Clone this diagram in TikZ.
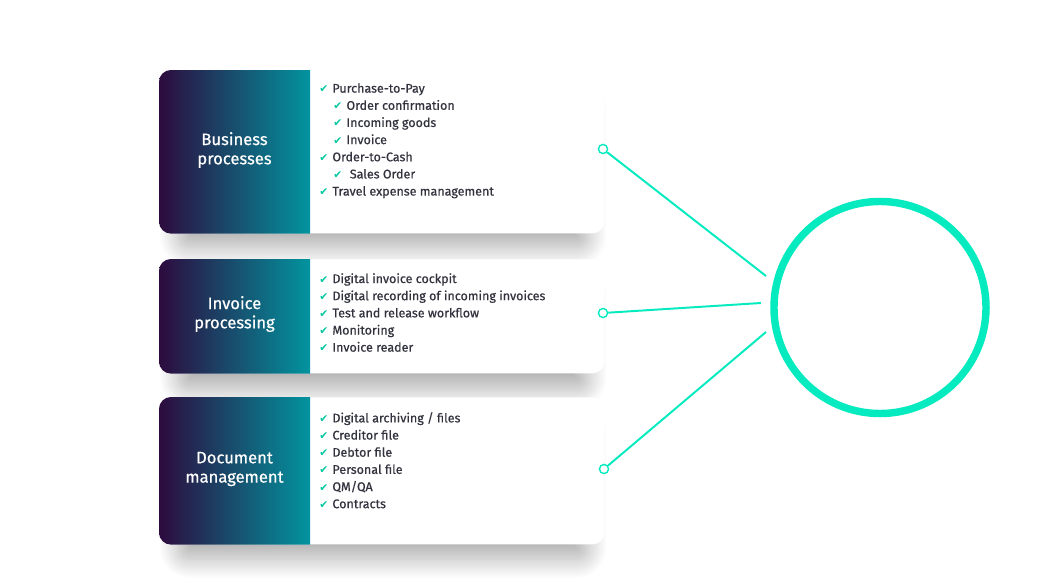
\documentclass[tikz,border=0pt]{standalone}
\usepackage{fontspec}
\setmainfont{Fira Sans}[FakeBold=0.6]
\newfontfamily\symfont{DejaVu Sans}
\usetikzlibrary{shadows.blur}

\definecolor{accent}{HTML}{05EBBF}
\definecolor{deeppurple}{HTML}{2D0B3E}
\definecolor{petrol}{HTML}{02949F}
\definecolor{ink}{HTML}{33333F}

\newcommand{\chk}{{\symfont\color{accent!85!black}\fontsize{7.6}{7.6}\selectfont ✔}\hspace{3pt}}
\newcommand{\sub}{\hspace*{10pt}}

\begin{document}
\begin{tikzpicture}[x=0.025cm,y=-0.025cm,
  card/.style={fill=white,rounded corners=8.5pt,anchor=north west,minimum width=11.125cm,inner sep=0pt,
    blur shadow={shadow xshift=1pt,shadow yshift=-16pt,shadow blur radius=15pt,shadow blur steps=24,shadow opacity=32,shadow scale=0.92}},
  title/.style={text=white,align=center,font=\fontsize{11.8}{13.7}\selectfont},
  items/.style={anchor=north west,align=left,inner sep=0pt,text=ink,font=\fontsize{8.9}{12.2}\selectfont},
  dot/.style={circle,draw=accent,fill=white,line width=1pt,inner sep=0pt,minimum size=6.5pt},
  link/.style={accent,line width=1.4pt}]

\useasboundingbox (0,0) rectangle (1040,585);

% cards
\node[card,minimum height=4.075cm] (bp) at (159,70) {};
\node[card,minimum height=2.85cm] (ip) at (159,259) {};
\node[card,minimum height=3.675cm] (dm) at (159,397) {};

% gradient panels
\foreach \c in {bp,ip,dm}{
  \begin{scope}
    \clip[rounded corners=8.5pt] (\c.north west) rectangle (\c.south east);
    \shade[shading=axis,shading angle=90,left color=deeppurple,right color=petrol]
      (\c.north west) rectangle ([xshift=3.775cm]\c.south west);
  \end{scope}
}

\node[title] (bptitle) at (234.5,150) {Business\\processes};
\node[title] (iptitle) at (234.5,314) {Invoice\\processing};
\node[title] (dmtitle) at (234.5,469) {Document\\management};

\node[items] (bplist) at (319,83) {\chk Purchase-to-Pay\\
  \sub\chk Order confirmation\\
  \sub\chk Incoming goods\\
  \sub\chk Invoice\\
  \chk Order-to-Cash\\
  \sub\chk\ Sales Order\\
  \chk Travel expense management};

\node[items] (iplist) at (319,273) {\chk Digital invoice cockpit\\
  \chk Digital recording of incoming invoices\\
  \chk Test and release workflow\\
  \chk Monitoring\\
  \chk Invoice reader};

\node[items] (dmlist) at (319,412) {\chk Digital archiving / files\\
  \chk Creditor file\\
  \chk Debtor file\\
  \chk Personal file\\
  \chk QM/QA\\
  \chk Contracts};

% hub and links
\node[circle,draw=accent,line width=5.3pt,minimum size=5.3cm] (hub) at (880,307.5) {};

\coordinate (e1) at (766,276);
\coordinate (e2) at (761,303);
\coordinate (e3) at (766,332);

\node[dot] (d1) at (603,149) {};
\node[dot] (d2) at (603,313) {};
\node[dot] (d3) at (604,469) {};

\draw[link] (d1) -- (e1);
\draw[link] (d2) -- (e2);
\draw[link] (d3) -- (e3);
\end{tikzpicture}
\end{document}
